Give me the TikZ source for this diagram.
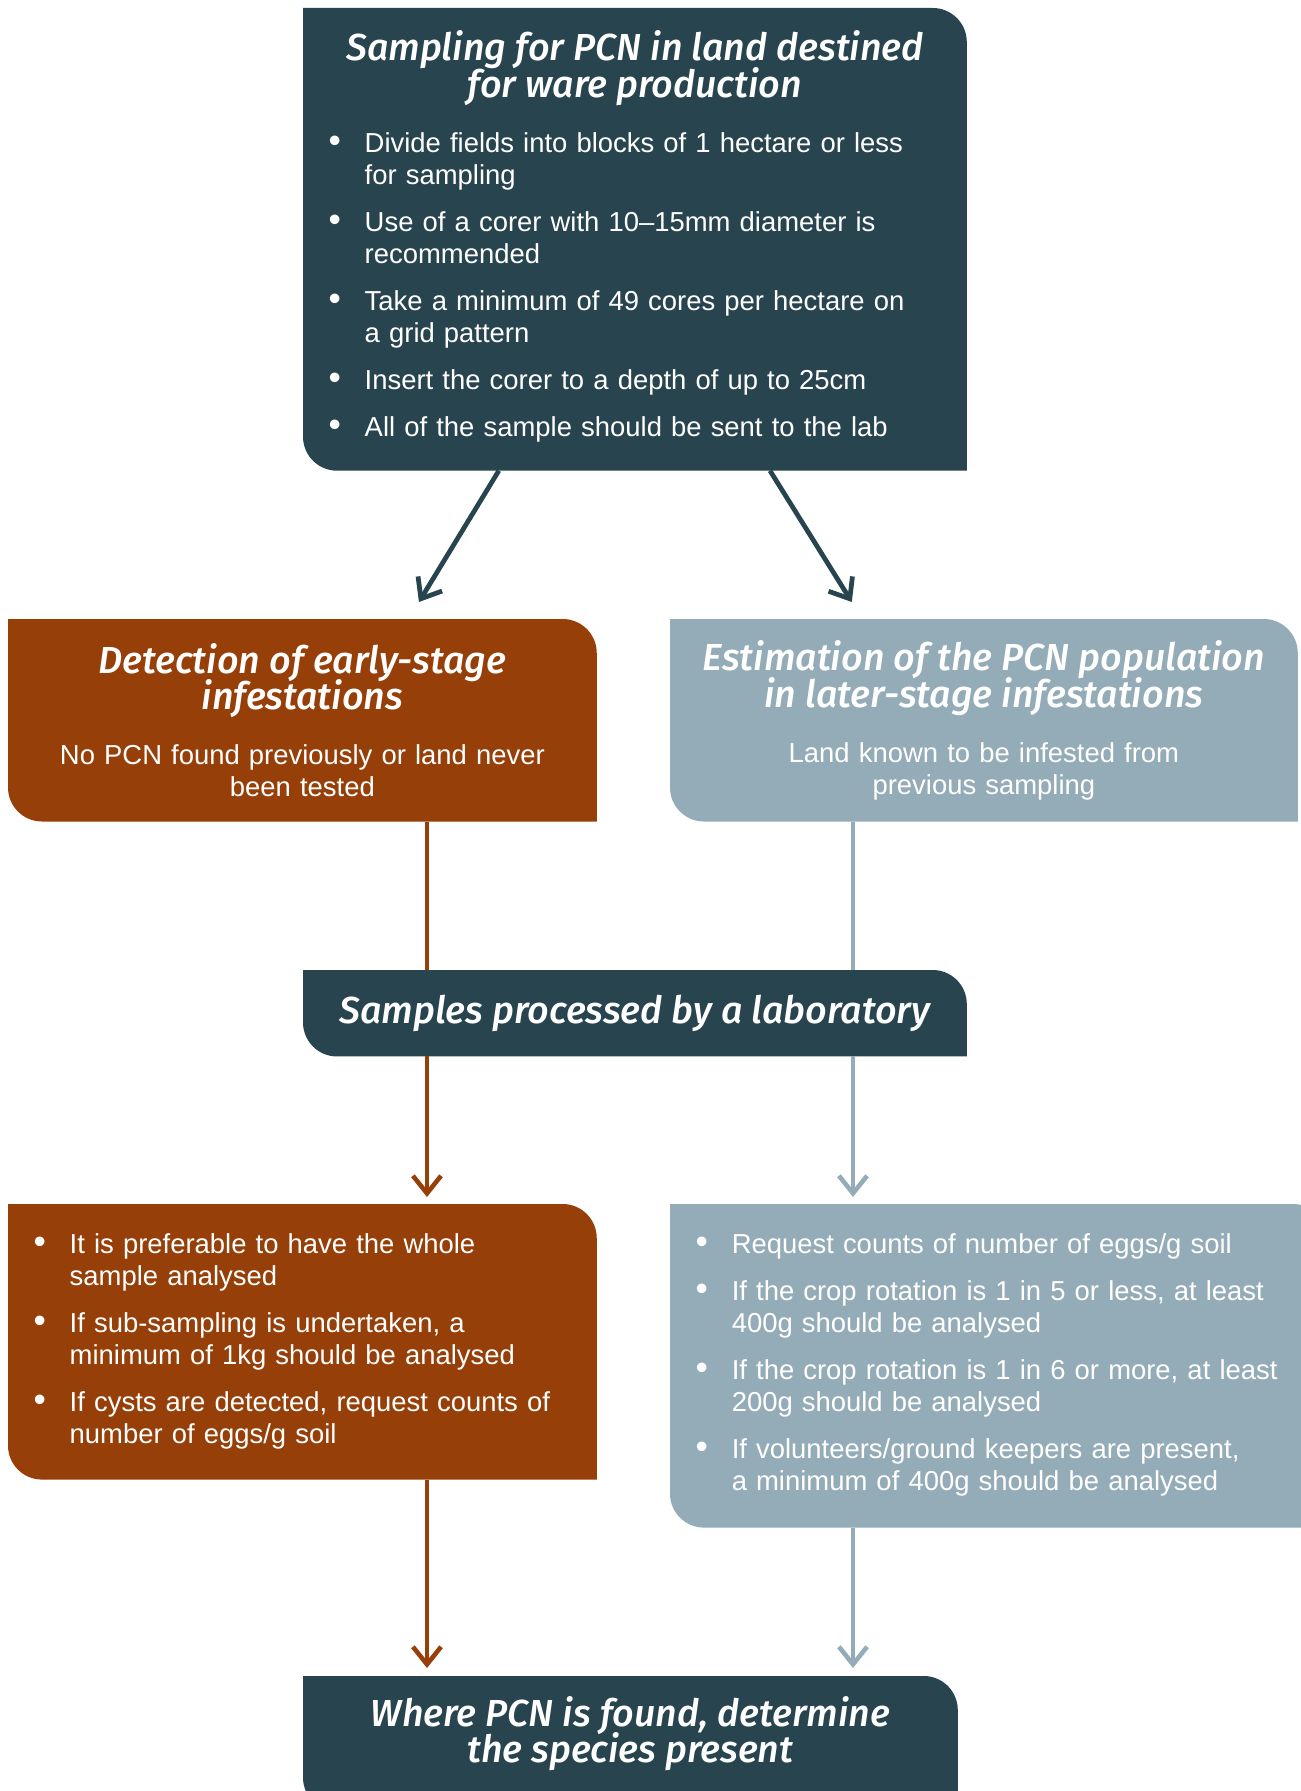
\documentclass[tikz,border=0pt]{standalone}
\usepackage{fontspec}
\setmainfont{Liberation Sans}
\newfontfamily\ttlfamily{Fira Sans}[ItalicFont={* Medium Italic}]
\usetikzlibrary{arrows.meta,calc,backgrounds}
\definecolor{pcnDark}{HTML}{28454F}
\definecolor{pcnRust}{HTML}{963F08}
\definecolor{pcnSlate}{HTML}{94ACB7}
\newlength{\bltind}\setlength{\bltind}{0.36cm}
\newcommand{\ttl}[1]{{\centering\ttlfamily\itshape\fontsize{10.7}{10.4}\selectfont\lineskiplimit=-10pt #1\par}}
\newcommand{\firstblt}[1]{\par\noindent\hangindent=\bltind\hangafter=1\hbox to\bltind{\fontsize{10}{0}\selectfont\textbullet\hfil}#1\par}
\newcommand{\blt}[1]{\par\vspace{0.15cm}\firstblt{#1}}
% box with rounded top-right and bottom-left corners
\newcommand{\pcnshape}[2]{%
  \fill[#2] (#1.north west) -- ([xshift=-0.34cm]#1.north east)
    arc[start angle=90,end angle=0,radius=0.34cm] -- (#1.south east)
    -- ([xshift=0.34cm]#1.south west)
    arc[start angle=270,end angle=180,radius=0.34cm] -- cycle;}
\tikzset{
  box/.style={anchor=north west, inner xsep=0.25cm, inner ysep=0pt, text=white, align=left, font=\fontsize{7.8}{9.1}\selectfont},
  boxC/.style={box, inner xsep=0.1cm, align=center},
  arrD/.style={-{Straight Barb[length=5pt,width=8pt]}, line width=1.35pt, draw=pcnDark},
  lineR/.style={line width=1.3pt, draw=pcnRust},
  lineS/.style={line width=1.3pt, draw=pcnSlate},
  arrR/.style={lineR, -{Straight Barb[length=5pt,width=8pt]}},
  arrS/.style={lineS, -{Straight Barb[length=5pt,width=8pt]}},
}
\begin{document}
\begin{tikzpicture}[x=0.01cm,y=-0.01cm]
\useasboundingbox (0,0) rectangle (1301,1791);
\node[box, minimum width=6.62cm, minimum height=4.61cm, text width=6.12cm] (top) at (303,8) {%
  \ttl{Sampling for PCN in land destined\\for ware production}\vspace{2.4pt}%
  \blt{Divide fields into blocks of 1 hectare or less\newline for sampling}%
  \blt{Use of a corer with 10--15mm diameter is\newline recommended}%
  \blt{Take a minimum of 49 cores per hectare on\newline a grid pattern}%
  \blt{Insert the corer to a depth of up to 25cm}%
  \blt{All of the sample should be sent to the lab}\vspace*{1.6pt}};
\node[boxC, minimum width=5.87cm, minimum height=2.01cm, text width=5.67cm] (det) at (8,619) {%
  \ttl{Detection of early-stage\\infestations}\vspace{6.5pt}%
  No PCN found previously or land never\\been tested};
\node[boxC, minimum width=6.26cm, minimum height=2.01cm, text width=6.06cm] (est) at (670,619) {%
  \ttl{Estimation of the PCN population\\in later-stage infestations}\vspace{6.5pt}%
  Land known to be infested from\\previous sampling};
\node[boxC, minimum width=6.62cm, minimum height=0.85cm, text width=6.42cm] (lab) at (303,970) {%
  \ttl{Samples processed by a laboratory}};
\node[box, minimum width=5.87cm, minimum height=2.74cm, text width=5.37cm] (lowL) at (8,1204) {%
  \firstblt{It is preferable to have the whole\newline sample analysed}%
  \blt{If sub-sampling is undertaken, a\newline minimum of 1kg should be analysed}%
  \blt{If cysts are detected, request counts of\newline number of eggs/g soil}\vspace*{0.12cm}};
\node[box, minimum width=6.40cm, minimum height=3.22cm, text width=6.05cm] (lowR) at (670,1204) {%
  \firstblt{Request counts of number of eggs/g soil}%
  \blt{If the crop rotation is 1 in 5 or less, at least\newline 400g should be analysed}%
  \blt{If the crop rotation is 1 in 6 or more, at least\newline 200g should be analysed}%
  \blt{If volunteers/ground keepers are present,\newline a minimum of 400g should be analysed}\vspace*{0.14cm}};
\node[boxC, minimum width=6.53cm, minimum height=1.34cm, text width=6.33cm] (fin) at (303,1676) {%
  \ttl{Where PCN is found, determine\\the species present}\vspace*{0.2cm}};
\coordinate (lcol) at (427,0);
\coordinate (rcol) at (853,0);
\begin{scope}[on background layer]
  \fill[white] (0,0) rectangle (1301,1791);
  \pcnshape{top}{pcnDark}
  \pcnshape{det}{pcnRust}
  \pcnshape{est}{pcnSlate}
  \pcnshape{lab}{pcnDark}
  \pcnshape{lowL}{pcnRust}
  \pcnshape{lowR}{pcnSlate}
  \pcnshape{fin}{pcnDark}
\end{scope}
\draw[arrD] ([xshift=-1.36cm]top.south) -- ([xshift=1.165cm,yshift=0.17cm]det.north);
\draw[arrD] ([xshift=1.35cm]top.south) -- ([xshift=-1.32cm,yshift=0.17cm]est.north);
\draw[lineR] (det.south -| lcol) -- (lab.north -| lcol);
\draw[arrR] (lab.south -| lcol) -- ($(lowL.north -| lcol)+(0,-7)$);
\draw[arrR] (lowL.south -| lcol) -- ($(fin.north -| lcol)+(0,-8)$);
\draw[lineS] (est.south -| rcol) -- (lab.north -| rcol);
\draw[arrS] (lab.south -| rcol) -- ($(lowR.north -| rcol)+(0,-7)$);
\draw[arrS] (lowR.south -| rcol) -- ($(fin.north -| rcol)+(0,-8)$);
\end{tikzpicture}
\end{document}
